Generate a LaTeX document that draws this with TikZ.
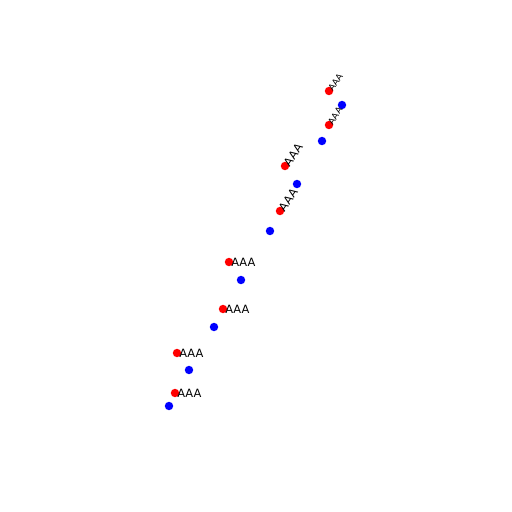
\documentclass[tikz,border=0pt]{standalone}
\usepackage{fontspec}
\setmainfont{DejaVu Sans}
\usetikzlibrary{positioning}
\tikzset{
  reddot/.style={circle,fill=red,inner sep=0pt,minimum size=4.8pt},
  bluedot/.style={circle,fill=blue,inner sep=0pt,minimum size=4.8pt},
  lbl/.style={inner sep=0pt,anchor=west,text=black,font=\fontsize{6.5}{7}\selectfont},
  smalllbl/.style={lbl,font=\fontsize{5}{6}\selectfont}
}
\begin{document}
\begin{tikzpicture}[x=0.02cm,y=-0.02cm]
  \useasboundingbox (0,0) rectangle (512,512);
  % blue points
  \node[bluedot] (b1) at (342,105) {};
  \node[bluedot] (b2) at (322,141) {};
  \node[bluedot] (b3) at (297,184) {};
  \node[bluedot] (b4) at (270,231) {};
  \node[bluedot] (b5) at (241,280) {};
  \node[bluedot] (b6) at (214,327) {};
  \node[bluedot] (b7) at (189,370) {};
  \node[bluedot] (b8) at (169,406) {};
  % red points
  \node[reddot] (r1) at (329,91) {};
  \node[reddot] (r2) at (329,125) {};
  \node[reddot] (r3) at (285,166) {};
  \node[reddot] (r4) at (280,211) {};
  \node[reddot] (r5) at (229,262) {};
  \node[reddot] (r6) at (223,309) {};
  \node[reddot] (r7) at (177,353) {};
  \node[reddot] (r8) at (175,393) {};
  % labels
  \node[smalllbl,rotate=55] (l1) at ([shift={(1,-1)}]r1.center) {AAA};
  \node[smalllbl,rotate=58] (l2) at ([shift={(1,-1)}]r2.center) {AAA};
  \node[lbl,rotate=55] (l3) at ([shift={(1,-1)}]r3.center) {AAA};
  \node[lbl,rotate=55] (l4) at ([shift={(1,-1)}]r4.center) {AAA};
  \node[lbl] (l5) at ([shift={(2,0)}]r5.center) {AAA};
  \node[lbl] (l6) at ([shift={(2,0)}]r6.center) {AAA};
  \node[lbl] (l7) at ([shift={(2,0)}]r7.center) {AAA};
  \node[lbl] (l8) at ([shift={(2,0)}]r8.center) {AAA};
\end{tikzpicture}
\end{document}
